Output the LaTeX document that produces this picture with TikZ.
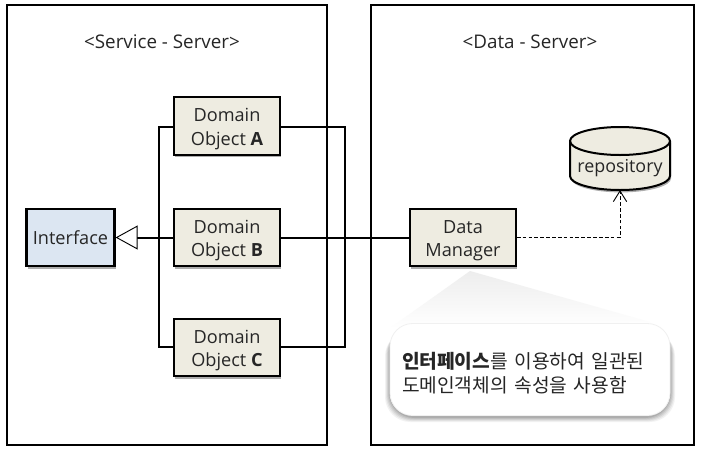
\documentclass[tikz,border=0pt]{standalone}
\usepackage{fontspec}
\setmainfont{Open Sans}
\newfontfamily\krfont{Noto Sans CJK KR}
\usetikzlibrary{arrows.meta,shadows}
\newcommand{\topline}{\rule{0pt}{14.5pt}}
\tikzset{
  x=0.75pt,y=-0.75pt,
  softshadow/.style={drop shadow={shadow xshift=0.8pt,shadow yshift=-1.8pt,fill=black,opacity=.32}},
  frame/.style={draw=black,line width=1.5pt,fill=white},
  classbox/.style={draw=black,line width=1.7pt,fill=beige,minimum width=79pt,minimum height=43pt,
    inner sep=0pt,align=center,font=\fontsize{13.6}{17.3}\selectfont,text=textgrey,softshadow},
  link/.style={draw=black,line width=1.5pt},
  titletext/.style={font=\fontsize{14.1}{16}\selectfont,text=textgrey,inner sep=0pt},
  realize/.style={link,-{Triangle[fill=white,length=16.5pt,width=18pt,line width=.7pt]}},
  depends/.style={draw=black,line width=.7pt,dash pattern=on 2.8pt off 1.6pt,-{Straight Barb[length=8pt,width=10pt,line width=.7pt]}},
}
\definecolor{beige}{RGB}{238,236,225}
\definecolor{paleblue}{RGB}{220,230,242}
\definecolor{textgrey}{RGB}{38,38,38}
\begin{document}
\begin{tikzpicture}
  \useasboundingbox (0,0) rectangle (702,457);
  \fill[white] (0,0) rectangle (702,457);

  % server frames
  \node[frame,minimum width=240pt,minimum height=330pt,inner sep=0pt] (service) at (167,225) {};
  \node[frame,minimum width=242pt,minimum height=330pt,inner sep=0pt] (data) at (532.5,225) {};
  \node[titletext] (servicetitle) at (162,42) {<Service - Server>};
  \node[titletext] (datatitle) at (530,42) {<Data - Server>};

  % class boxes
  \node[classbox] (a) at (227,126) {\topline Domain\\Object \textbf{A}};
  \node[classbox] (b) at (227,237.5) {\topline Domain\\Object \textbf{B}};
  \node[classbox] (c) at (227,347.5) {\topline Domain\\Object \textbf{C}};
  \node[classbox,fill=paleblue,minimum width=66pt] (iface) at (70.5,237.5) {Interface};
  \node[classbox] (mgr) at (463,237.5) {\topline Data\\Manager};

  % repository drum: side wall, then the rim of its top face
  \path[draw=black,line width=1.5pt,fill=beige,softshadow]
    (570,141) arc[start angle=180,end angle=0,x radius=37.5pt,y radius=10.5pt]
    -- (670,176) arc[start angle=0,end angle=-180,x radius=37.5pt,y radius=10.5pt] -- cycle;
  \draw[line width=1.5pt] (570,141) arc[start angle=180,end angle=360,x radius=37.5pt,y radius=10.5pt];
  \node[minimum width=75pt,minimum height=47pt,inner sep=0pt,
    font=\fontsize{13.4}{15}\selectfont,text=textgrey] (repo) at (620,158.5) {\rule{0pt}{24pt}repository};

  % relations on the domain objects
  \coordinate (leftbus) at (159,238);
  \coordinate (rightbus) at (345,238);
  \draw[realize] (b.west) -- (iface.east);
  \draw[link] (a.west |- 0,127) -| (leftbus) |- (c.west |- 0,347);
  \draw[link] (a.east |- 0,127) -| (rightbus) |- (c.east |- 0,347);
  \draw[link] (b.east) -- (mgr.west);
  \draw[depends] (mgr.east) -| (repo.south);

  % call-out with its pointer towards the manager
  \coordinate (tip) at (470,271);
  \coordinate (wedgeL) at (390,328);
  \coordinate (wedgeR) at (650,322);
  \shade[top color=black!7,bottom color=white] (tip) -- (wedgeL) -- (wedgeR) -- cycle;
  \foreach \g/\o in {5/.05,4/.06,3/.07,2/.08,1/.10}
    \fill[black,opacity=\o,rounded corners=19pt] (390-\g,326+\g) rectangle (670+\g,417+\g);
  \node[draw=black!6,line width=.6pt,fill=white,rounded corners=17pt,minimum width=210pt,minimum height=69pt,
    inner sep=0pt,text width=192pt,align=left,text=textgrey,font=\krfont\fontsize{14.4}{18}\selectfont] (note) at (530,369.5)
    {\rule{0pt}{18pt}\textbf{인터페이스}를 이용하여 일관된\\도메인객체의 속성을 사용함};
\end{tikzpicture}
\end{document}
